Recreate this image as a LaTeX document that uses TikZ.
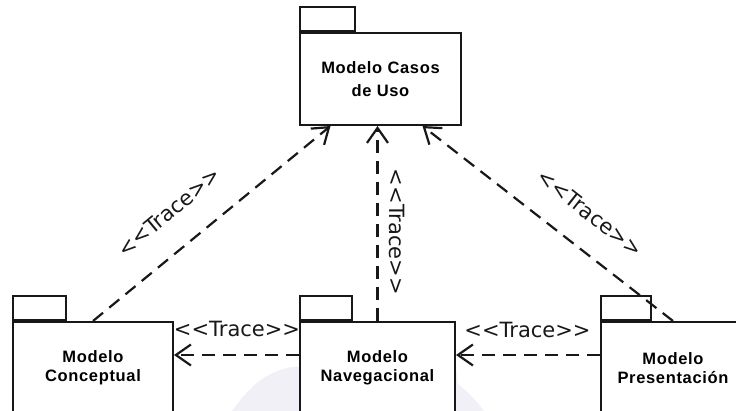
\documentclass[tikz,border=0pt]{standalone}
\usepackage{fontspec}
\setmainfont{Liberation Sans}
\newfontfamily\pkgfont{Liberation Sans}[LetterSpace=4]
\newfontfamily\lblfont{DejaVu Sans}
\usetikzlibrary{arrows.meta}
\definecolor{ink}{RGB}{24,24,24}
\definecolor{wm}{RGB}{240,240,246}

\begin{document}
\begin{tikzpicture}[x=1pt,y=-1pt,
  pkgbox/.style={draw=ink, line width=2pt, fill=white, inner sep=0pt,
    align=center, minimum height=92pt,
    font=\pkgfont\bfseries\fontsize{16.5}{19}\selectfont},
  pkgtab/.style={draw=ink, line width=2pt, fill=white, inner sep=0pt,
    minimum height=24pt, anchor=south west},
  trace/.style={draw=ink, line width=2.2pt, dash pattern=on 13pt off 8pt,
    -{Straight Barb[length=15pt,width=21pt]}},
  tracelbl/.style={font=\lblfont\fontsize{21}{21}\selectfont, inner sep=0pt,
    text=ink}]
\useasboundingbox (0,0) rectangle (736,411);
\clip (0,0) rectangle (736,411);

% faint background shape
\fill[wm] (232,411) .. controls (246,392) and (262,372) .. (292,367)
  -- (456,367) -- (458,384) .. controls (468,392) and (476,400) .. (484,411) -- cycle;

% package bodies
\node[pkgbox, minimum width=161pt, font=\pkgfont\bfseries\fontsize{16.5}{23}\selectfont]
  (top) at (380.5,79) {Modelo Casos\\de Uso};
\node[pkgbox, minimum width=160pt] (conc) at (93,368) {Modelo\\Conceptual};
\node[pkgbox, minimum width=155pt] (nav) at (377.5,368) {Modelo\\Navegacional};
\node[pkgbox, minimum width=144pt] (pres) at (673,368) {Modelo\\Presentación};

% package tabs
\node[pkgtab, minimum width=55pt] (toptab) at (top.north west) {};
\node[pkgtab, minimum width=53pt] (conctab) at (conc.north west) {};
\node[pkgtab, minimum width=52pt] (navtab) at (nav.north west) {};
\node[pkgtab, minimum width=50pt] (prestab) at (pres.north west) {};

% end points on the lower edge of the use-case package
\coordinate (tl) at ([xshift=-50pt]top.south);
\coordinate (tm) at (nav.north |- top.south);
\coordinate (tr) at ([xshift=42pt]top.south);

% trace dependencies
\draw[trace] (conc.north) -- (tl);
\draw[trace] (nav.north) -- (tm);
\draw[trace] (pres.north) -- (tr);
\draw[trace] ([yshift=13pt]nav.west) -- ([yshift=13pt]conc.east);
\draw[trace] ([yshift=13pt]pres.west) -- ([yshift=13pt]nav.east);

% stereotype labels
\node[tracelbl, rotate=39.7] (lbl1) at (169,212) {<<Trace>>};
\node[tracelbl, rotate=-90] (lbl2) at (397,232) {<<Trace>>};
\node[tracelbl, rotate=-38.2] (lbl3) at (590,213) {<<Trace>>};
\node[tracelbl, anchor=base] (lbl4) at (237,337) {<<Trace>>};
\node[tracelbl, anchor=base] (lbl5) at (527.5,338) {<<Trace>>};
\end{tikzpicture}
\end{document}
